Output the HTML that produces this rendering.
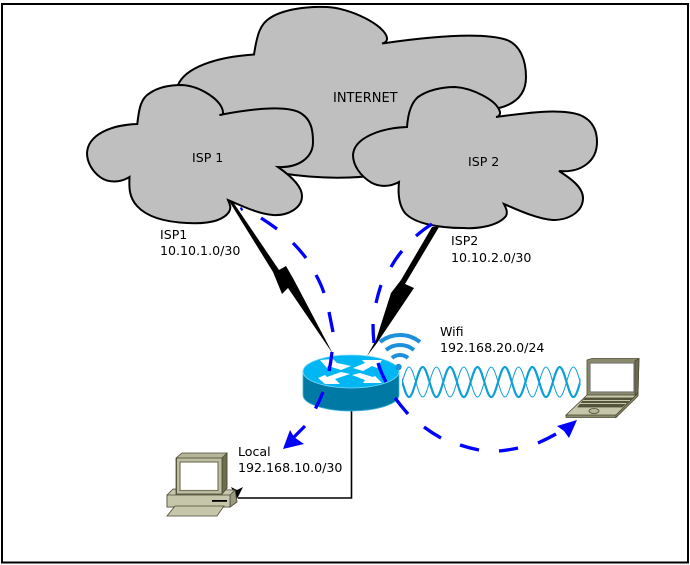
<!DOCTYPE html>
<html>
<head>
<meta charset="utf-8">
<style>
html,body{margin:0;padding:0;background:#fff;}
svg{display:block;}
text{font-family:"DejaVu Sans",sans-serif;font-size:12.6px;fill:#000;}
</style>
</head>
<body>
<svg width="690" height="565" viewBox="0 0 690 565" xmlns="http://www.w3.org/2000/svg">
<defs>
<clipPath id="c"><rect x="402" y="360" width="178.500" height="45"/></clipPath>
</defs>
<rect x="2" y="4" width="686" height="558.500" fill="#fff" stroke="#000" stroke-width="2"/>

<path d="M254 54.500C257 35 260 24 270 18C282 10 305 6 327 7C350 8 385 25 387 38C387.500 41 385 43 382 43.500C420 38 480 31 507 40C520 45 526 60 526 77C526 95 515 104 499 108L400 170C375 178 330 181 280 173C230 170 190 150 178 120C172 100 172 95 178 85C185 68 215 57 254 54.500Z" fill="#bfbfbf" stroke="#000" stroke-width="2"/>

<path d="M137.300 124C139 108 141 98 150 93C160 86 172 85 182 85C200 86 222 100 223 112C223.500 115 221 115 219.500 115C255 108 290 105 302 114C311 120 313 130 313 142C313 158 298 168 278 167C288 174 302 185 302 196C302 208 288 216 273 215C258 214 240 205 228 200C229 203 232 207 229 212C222 222 205 224 187 223C165 222 147 217 137 206C129 197 129 188 129.500 177C120 183 108 183 100 177C92 171 87 162 87 153C88 135 110 125 137.300 124Z" fill="#bfbfbf" stroke="#000" stroke-width="2"/>

<path d="M407 127C408 113 411 103 418 97C428 90 442 87 455 87C472 88 497 100 500 112C500.500 115 498 117 496 117C525 113 560 108 580 115C592 120 597 130 597 142C597 162 580 173 559 171C570 178 583 187 583 198C583 211 570 220 553 220C538 219 520 211 504 204C506 208 508 212 506 216C498 226 478 229 463 228C440 228 415 224 405 213C398 204 398 192 399 182C390 187 380 187 372 183C360 176 353 165 353 155C354 138 380 128 407 127Z" fill="#bfbfbf" stroke="#000" stroke-width="2"/>

<polygon points="229,201 233,202 279,270 286,266 294,280 333,354 288,288 282,294 273,272" fill="#000"/>
<polygon points="439,227 405,284 414,288 377,343 367,356 376,340 391,293 401,280 432,227" fill="#000"/>

<g clip-path="url(#c)" fill="none" stroke="#0e9fd6">
<path stroke-width="1" d="M395.400 397c4.900 0 8.800-30 13.600-30c4.900 0 8.800 30 13.700 30c4.900 0 8.800-30 13.700-30c4.900 0 8.800 30 13.700 30c4.900 0 8.800-30 13.700-30c4.900 0 8.800 30 13.700 30c4.900 0 8.800-30 13.700-30c4.900 0 8.800 30 13.700 30c4.900 0 8.800-30 13.700-30c4.900 0 8.800 30 13.700 30c4.900 0 8.800-30 13.700-30c4.900 0 8.800 30 13.700 30c4.900 0 8.800-30 13.700-30c4.900 0 8.800 30 13.700 30"/>
<path stroke-width="2.200" d="M395.400 367c4.900 0 8.800 30 13.600 30c4.900 0 8.800-30 13.700-30c4.900 0 8.800 30 13.700 30c4.900 0 8.800-30 13.700-30c4.900 0 8.800 30 13.700 30c4.900 0 8.800-30 13.700-30c4.900 0 8.800 30 13.700 30c4.900 0 8.800-30 13.700-30c4.900 0 8.800 30 13.700 30c4.900 0 8.800-30 13.700-30c4.900 0 8.800 30 13.700 30c4.900 0 8.800-30 13.700-30c4.900 0 8.800 30 13.700 30c4.900 0 8.800-30 13.700-30"/>
</g>

<path d="M351.500 411V498H238" fill="none" stroke="#000" stroke-width="1.600"/>
<polygon points="231,487 237,490 243,487 237,499" fill="#000"/>

<g>
<path d="M303 371V395C303 404 325 411 351 411C377 411 399 404 399 395V371Z" fill="#0079a5" stroke="#3fb5dc" stroke-width="0.800"/>
<ellipse cx="351" cy="371.500" rx="48" ry="16.500" fill="#00b7f4" stroke="#7fd8f4" stroke-width="0.800"/>
<polygon points="320,360 333,359 337,363 351,366 341,370 328,366 327,368" fill="#fff"/>
<polygon points="382,360 362,360 365,363 353,368 363,371 372,366 377,368" fill="#fff"/>
<polygon points="318,378 325,384 340,384 335,379 350,374 341,372 327,377 325,375" fill="#fff"/>
<polygon points="382,383 363,383 365,380 352,375 360,373 373,377 375,376" fill="#fff"/>
</g>

<g fill="none" stroke="#1e90db" stroke-width="4">
<path d="M380 342A32 32 0 0 1 420 342"/>
<path d="M386 350A22 22 0 0 1 414 350"/>
<path d="M392 358A12 12 0 0 1 408 358"/>
</g>
<circle cx="398.500" cy="367" r="3.200" fill="#1e90db"/>

<g fill="none" stroke="#0000ff" stroke-width="3.300">
<path d="M240.500 209.500L242.500 208.500"/>
<path d="M261 218Q269 223 277 229"/>
<path d="M293 243Q300 250 306 258"/>
<path d="M316 275Q321 284 324 293"/>
<path d="M329 312Q331 322 333 332"/>
<path d="M332 352Q331 362 329 371"/>
<path d="M323 392Q320 400 315.500 408.500"/>
<path d="M305 426L293 438"/>
<path d="M432 224Q424 229 416 236"/>
<path d="M402 251Q396 258 391 267"/>
<path d="M381 285Q378 294 376 303"/>
<path d="M373 324Q373 334 374 343"/>
<path d="M378 363Q381 373 386 382"/>
<path d="M395 398Q401 406 408 414"/>
<path d="M424 427Q432 433 441 438"/>
<path d="M460 445Q469 448 479 450"/>
<path d="M499 451Q509 450 518 448"/>
<path d="M538 443Q547 439 556 434"/>
</g>
<polygon points="283,449 290,430 294,437 304,444" fill="#0000ff"/>
<polygon points="577,420 569,438 564,431 557,426" fill="#0000ff"/>

<g stroke="#4a4a33" stroke-width="0.800">
<polygon points="587,360 592,358.500 639,358.500 638,394 635,396 587,396" fill="#8a8a6c"/>
<polygon points="635,361 639,358.500 638,394 635,396" fill="#6d6d50"/>
<rect x="590" y="363" width="44" height="29" fill="#fff" stroke="#777" stroke-width="1.200"/>
<polygon points="587,395 635,395 638,393 616,417 566,415" fill="#c6c6ab"/>
<polygon points="566,415 616,415 616,417.500 566,417.500" fill="#8a8a6c"/>
<polygon points="616,415 638,393 638,396 616,417.500" fill="#8a8a6c"/>
<polygon points="585,398 632,398 622,407 578,407" fill="#55553c"/>
<path d="M583 400.500H630M580 403.500H626" stroke="#c6c6ab" stroke-width="1"/>
<ellipse cx="594" cy="411" rx="5" ry="2.500" fill="#b5b59a"/>
</g>

<g stroke="#4a4a33" stroke-width="0.800">
<polygon points="173,489 235,490 237,502 230,507 167,507 167,495" fill="#c6c6ab"/>
<polygon points="230,495 235,490 237,502 230,507" fill="#9a9a7e"/>
<polygon points="167,495 230,495 230,507 167,507" fill="#c6c6ab"/>
<polygon points="182,453 227,453 227,488 222,494 176,494 176,458" fill="#b5b59a"/>
<polygon points="222,458 227,453 227,488 222,494" fill="#6d6d50"/>
<rect x="176.500" y="458" width="45.500" height="36" fill="#bdbda3"/>
<rect x="180" y="462" width="38" height="28.500" fill="#fff" stroke="#77775c" stroke-width="1.200"/>
<polygon points="175,506 224,506 217,516 167,516" fill="#c6c6ab"/>
<rect x="212" y="500" width="15" height="1.800" fill="#000" stroke="none"/>
</g>

<text x="333" y="102" style="font-size:13px">INTERNET</text>
<text x="192" y="162">ISP 1</text>
<text x="468" y="166">ISP 2</text>
<text x="160" y="239">ISP1</text>
<text x="160" y="255">10.10.1.0/30</text>
<text x="451" y="245">ISP2</text>
<text x="451" y="262">10.10.2.0/30</text>
<text x="440" y="336">Wifi</text>
<text x="440" y="352">192.168.20.0/24</text>
<text x="238" y="456">Local</text>
<text x="238" y="472">192.168.10.0/30</text>
</svg>
</body>
</html>
